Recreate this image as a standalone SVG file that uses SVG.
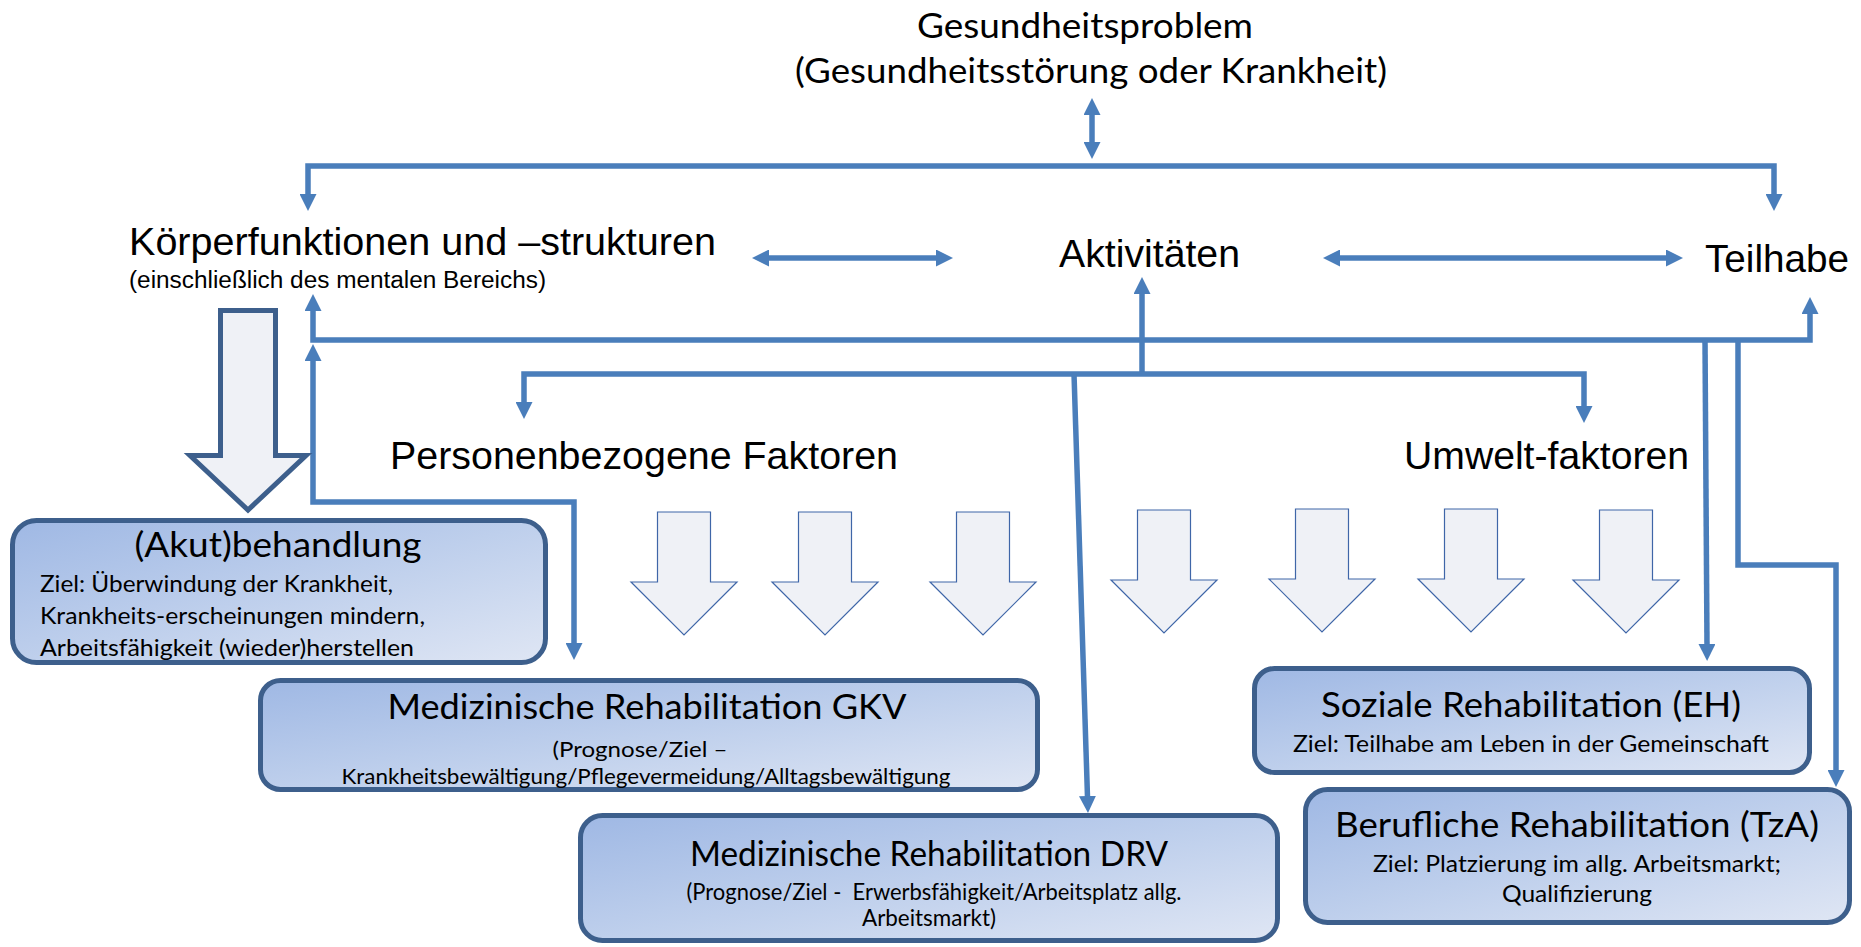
<svg xmlns="http://www.w3.org/2000/svg" width="1861" height="947" viewBox="0 0 1861 947">
<defs>
<style>
.ar{font-family:"Liberation Sans",Arial,sans-serif;fill:#000}
.cb{font-family:Lato,"Open Sans",sans-serif;fill:#000}
.conn{fill:none;stroke:#4A7EBB;stroke-width:5.5;stroke-linejoin:miter}
.box{fill:url(#bg);stroke:#3D5F8C;stroke-width:5}
.sa{fill:#EFF1F6;stroke:#3F66A8;stroke-width:1.2}
</style>
<linearGradient id="bg" x1="0" y1="0" x2="1" y2="1">
<stop offset="0" stop-color="#9FB8E4"/>
<stop offset="0.5" stop-color="#BECFEC"/>
<stop offset="1" stop-color="#DFE6F4"/>
</linearGradient>
<marker id="ah" markerWidth="17" markerHeight="17" refX="1" refY="8.5" orient="auto-start-reverse" markerUnits="userSpaceOnUse">
<path d="M0,0 L17,8.5 L0,17 Z" fill="#4A7EBB"/>
</marker>
</defs>
<rect width="1861" height="947" fill="#fff"/>

<g id="connectors">
<path class="conn" d="M1092,114 V143" marker-start="url(#ah)" marker-end="url(#ah)"/>
<path class="conn" d="M308,195 V166 H1774 V195" marker-start="url(#ah)" marker-end="url(#ah)"/>
<path class="conn" d="M768,258 H937" marker-start="url(#ah)" marker-end="url(#ah)"/>
<path class="conn" d="M1339,258 H1667" marker-start="url(#ah)" marker-end="url(#ah)"/>
<path class="conn" d="M313,310 V340 H1810 V313" marker-start="url(#ah)" marker-end="url(#ah)"/>
<path class="conn" d="M1142,374 V293" marker-end="url(#ah)"/>
<path class="conn" d="M524,403 V374 H1584 V407" marker-start="url(#ah)" marker-end="url(#ah)"/>
<path class="conn" d="M1074,374 L1087.5,797" marker-end="url(#ah)"/>
<path class="conn" d="M1705,340 L1707,645" marker-end="url(#ah)"/>
<path class="conn" d="M1738,340 V565 H1836 V771" marker-end="url(#ah)"/>
<path class="conn" d="M313,360 V502 H574 V644" marker-start="url(#ah)" marker-end="url(#ah)"/>
</g>

<g id="gesundheitsproblem">
<text class="cb" x="1085" y="38" font-size="35" text-anchor="middle" textLength="336" lengthAdjust="spacingAndGlyphs">Gesundheitsproblem</text>
<text class="cb" x="1091" y="83" font-size="35" text-anchor="middle" textLength="592" lengthAdjust="spacingAndGlyphs">(Gesundheitsstörung oder Krankheit)</text>
</g>

<g id="koerperfunktionen">
<text class="ar" x="129" y="255" font-size="39.5" textLength="587" lengthAdjust="spacingAndGlyphs">Körperfunktionen und –strukturen</text>
<text class="ar" x="129" y="288" font-size="23" textLength="417" lengthAdjust="spacingAndGlyphs">(einschließlich des mentalen Bereichs)</text>
</g>

<g id="aktivitaeten">
<text class="ar" x="1059" y="267" font-size="39.5" textLength="181" lengthAdjust="spacingAndGlyphs">Aktivitäten</text>
</g>

<g id="teilhabe">
<text class="ar" x="1705" y="272" font-size="39.5" textLength="144" lengthAdjust="spacingAndGlyphs">Teilhabe</text>
</g>

<g id="personenbezogene">
<text class="ar" x="390" y="469" font-size="39.5" textLength="508" lengthAdjust="spacingAndGlyphs">Personenbezogene Faktoren</text>
</g>

<g id="umwelt">
<text class="ar" x="1404" y="469" font-size="39.5" textLength="285" lengthAdjust="spacingAndGlyphs">Umwelt-faktoren</text>
</g>

<g id="big-arrow">
<path d="M220.5,310.5 H275.5 V455.5 H306 L248,510 L190,455.5 H220.5 Z" fill="#EFF1F6" stroke="#3D5F8C" stroke-width="5"/>
</g>

<g id="small-arrows">
<path class="sa" d="M657.5,512 H710.5 V582 H737 L684,635 L631,582 H657.5 Z"/>
<path class="sa" d="M798.5,512 H851.5 V582 H878 L825,635 L772,582 H798.5 Z"/>
<path class="sa" d="M956.5,512 H1009.5 V582 H1036 L983,635 L930,582 H956.5 Z"/>
<path class="sa" d="M1137.5,510 H1190.5 V580 H1217 L1164,633 L1111,580 H1137.5 Z"/>
<path class="sa" d="M1295.5,509 H1348.5 V579 H1375 L1322,632 L1269,579 H1295.5 Z"/>
<path class="sa" d="M1444.5,509 H1497.5 V579 H1524 L1471,632 L1418,579 H1444.5 Z"/>
<path class="sa" d="M1599.5,510 H1652.5 V580 H1679 L1626,633 L1573,580 H1599.5 Z"/>
</g>

<g id="akut">
<rect class="box" x="12.5" y="520.5" width="533" height="142" rx="24"/>
<text class="cb" x="278" y="557" font-size="34" text-anchor="middle" textLength="287" lengthAdjust="spacingAndGlyphs">(Akut)behandlung</text>
<text class="cb" x="40" y="592" font-size="23.5" textLength="353" lengthAdjust="spacingAndGlyphs">Ziel: Überwindung der Krankheit,</text>
<text class="cb" x="40" y="624" font-size="23.5" textLength="385" lengthAdjust="spacingAndGlyphs">Krankheits-erscheinungen mindern,</text>
<text class="cb" x="40" y="656" font-size="23.5" textLength="374" lengthAdjust="spacingAndGlyphs">Arbeitsfähigkeit (wieder)herstellen</text>
</g>

<g id="gkv">
<rect class="box" x="260.5" y="680.5" width="777" height="109" rx="20"/>
<text class="cb" x="647" y="719" font-size="35" text-anchor="middle" textLength="519" lengthAdjust="spacingAndGlyphs">Medizinische Rehabilitation GKV</text>
<text class="cb" x="640" y="757" font-size="22" text-anchor="middle" textLength="175" lengthAdjust="spacingAndGlyphs">(Prognose/Ziel –</text>
<text class="cb" x="646" y="784" font-size="22" text-anchor="middle" textLength="609" lengthAdjust="spacingAndGlyphs">Krankheitsbewältigung/Pflegevermeidung/Alltagsbewältigung</text>
</g>

<g id="drv">
<rect class="box" x="580.5" y="815.5" width="697" height="125" rx="22"/>
<text class="cb" x="929" y="866" font-size="35" text-anchor="middle" textLength="478" lengthAdjust="spacingAndGlyphs">Medizinische Rehabilitation DRV</text>
<text class="cb" x="934" y="900" font-size="22.5" text-anchor="middle" textLength="495" lengthAdjust="spacingAndGlyphs" xml:space="preserve">(Prognose/Ziel -  Erwerbsfähigkeit/Arbeitsplatz allg.</text>
<text class="cb" x="929" y="926" font-size="22.5" text-anchor="middle" textLength="134" lengthAdjust="spacingAndGlyphs">Arbeitsmarkt)</text>
</g>

<g id="soziale">
<rect class="box" x="1254.5" y="668.5" width="555" height="104" rx="20"/>
<text class="cb" x="1531" y="717" font-size="35" text-anchor="middle" textLength="420" lengthAdjust="spacingAndGlyphs">Soziale Rehabilitation (EH)</text>
<text class="cb" x="1531" y="752" font-size="23.5" text-anchor="middle" textLength="476" lengthAdjust="spacingAndGlyphs">Ziel: Teilhabe am Leben in der Gemeinschaft</text>
</g>

<g id="berufliche">
<rect class="box" x="1305.5" y="789.5" width="544" height="133" rx="22"/>
<text class="cb" x="1577" y="837" font-size="35" text-anchor="middle" textLength="484" lengthAdjust="spacingAndGlyphs">Berufliche Rehabilitation (TzA)</text>
<text class="cb" x="1577" y="872" font-size="23.5" text-anchor="middle" textLength="408" lengthAdjust="spacingAndGlyphs">Ziel: Platzierung im allg. Arbeitsmarkt;</text>
<text class="cb" x="1577" y="902" font-size="23.5" text-anchor="middle" textLength="150" lengthAdjust="spacingAndGlyphs">Qualifizierung</text>
</g>
</svg>
